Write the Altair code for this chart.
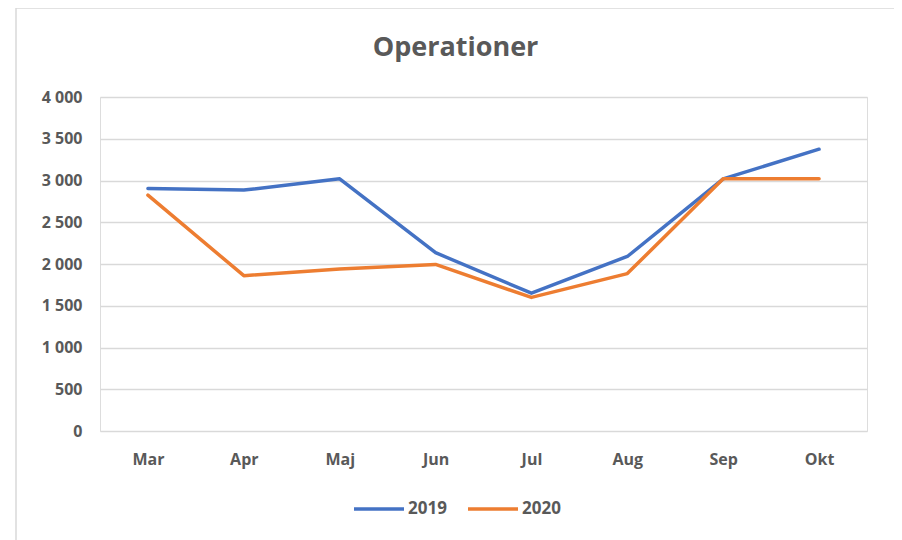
import altair as alt
import pandas as pd

months = ["Mar", "Apr", "Maj", "Jun", "Jul", "Aug", "Sep", "Okt"]
v2019 = [2905, 2885, 3020, 2135, 1650, 2090, 3020, 3375]
v2020 = [2825, 1860, 1940, 1995, 1600, 1885, 3020, 3020]
series = ["2019", "2020"]
colors = ["#4472C4", "#ED7D31"]

rows = []
for s, vals in zip(series, [v2019, v2020]):
    for m, v in zip(months, vals):
        rows.append({"Månad": m, "Serie": s, "Antal": v})
df = pd.DataFrame(rows)

FONT = "Open Sans"
GRAY = "#595959"

lines = alt.Chart(df).mark_line(strokeWidth=3.5, strokeCap="round", strokeJoin="round").encode(
    x=alt.X("Månad:N", sort=months, title=None,
            scale=alt.Scale(paddingInner=0, paddingOuter=0.5),
            axis=alt.Axis(labelAngle=0, ticks=False, domain=False, grid=False,
                          labelPadding=20, labelFontSize=16, labelColor=GRAY,
                          labelFont=FONT, labelFontWeight="bold")),
    y=alt.Y("Antal:Q", title=None,
            scale=alt.Scale(domain=[0, 4000], nice=False),
            axis=alt.Axis(values=list(range(0, 4001, 500)), ticks=False, domain=False,
                          gridColor="#d9d9d9", gridWidth=1.5, labelPadding=18,
                          labelFontSize=16, labelColor=GRAY, labelFont=FONT,
                          labelFontWeight="bold",
                          labelExpr="replace(format(datum.value, ','), ',', ' ')")),
    color=alt.Color("Serie:N", scale=alt.Scale(domain=series, range=colors), title=None,
                    legend=alt.Legend(orient="none", direction="horizontal",
                                      legendX=252, legendY=385,
                                      symbolType="stroke", symbolSize=2500,
                                      symbolStrokeWidth=3.5, labelFontSize=17,
                                      labelColor=GRAY, labelFont=FONT,
                                      labelFontWeight="bold", labelOffset=2,
                                      columnPadding=14)),
)

frame = alt.Chart(pd.DataFrame({"f": [0]})).mark_rect(
    fill=None, stroke="#d9d9d9", strokeWidth=1.5
).encode(
    x=alt.value(-84), x2=alt.value(796), y=alt.value(-89), y2=alt.value(460)
)

chart = alt.layer(frame, lines).properties(
    width=767,
    height=334,
    title=alt.TitleParams("Operationer", fontSize=27, fontWeight="bold",
                          color=GRAY, font=FONT, offset=-55, dx=-28),
    autosize=alt.AutoSizeParams(type="none"),
    padding={"left": 92, "top": 89, "right": 27, "bottom": 110},
).configure_view(stroke=None).configure(background="white")

chart.save("out.html", embed_options={"renderer": "svg", "actions": False})
